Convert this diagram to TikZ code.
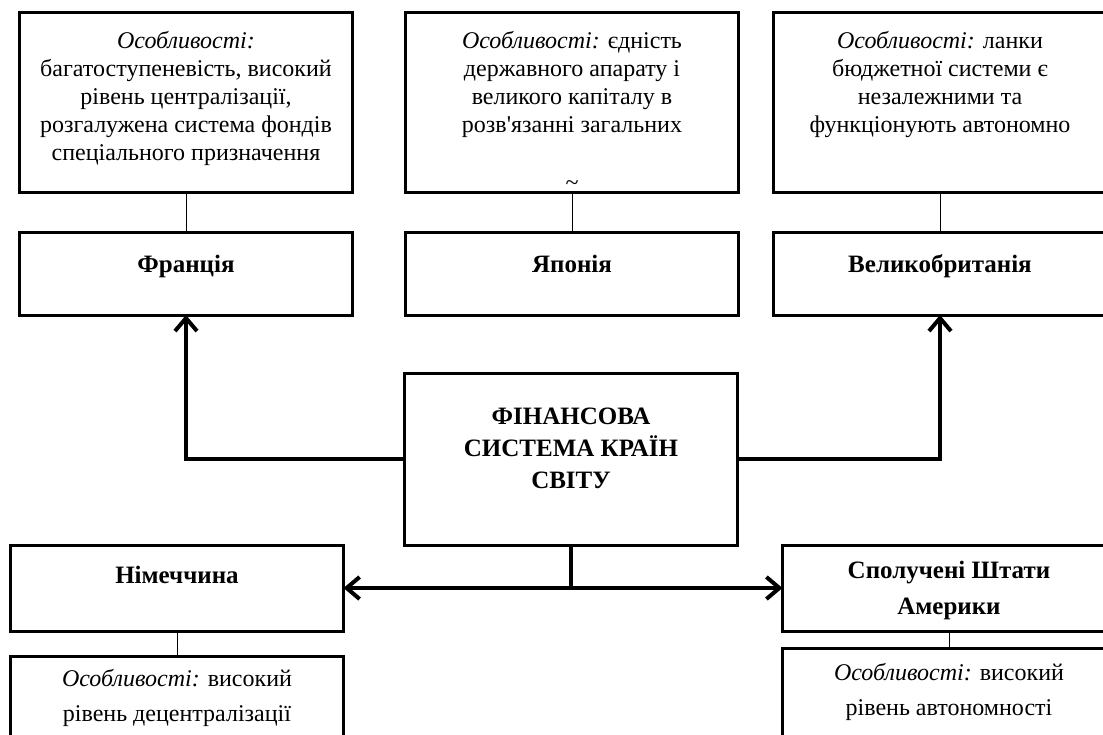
\documentclass[tikz,border=0pt]{standalone}
\usepackage{fontspec}
\setmainfont{Liberation Serif}
\usetikzlibrary{arrows.meta}
\newcommand{\boxtext}[3]{\parbox[c][#1][t]{325pt}{\centering\vspace*{#2}#3\par}}
\newcommand{\feat}{\textit{Особливості:}}
\begin{document}
\begin{tikzpicture}[x=1pt,y=-1pt,inner sep=0pt,outer sep=0pt,
>={Straight Barb[length=13pt,width=22pt]},
featblock/.style={draw,rectangle,line width=3pt,inner xsep=4pt,font=\fontsize{24}{28}\selectfont},
countryblock/.style={draw,rectangle,line width=3pt,inner xsep=4pt,font=\bfseries\fontsize{25}{36}\selectfont},
link/.style={line width=1pt},
flow/.style={line width=4pt}]
\useasboundingbox (0,0) rectangle (1103,734);
\clip (0,0) rectangle (1103,734);
% top row: features
\draw (186,102) node[featblock] (frfeat) {\boxtext{180pt}{19pt}{\feat\\ багатоступеневість, високий\\ рівень централізації,\\ розгалужена система фондів\\ спеціального призначення}};
\draw (572,102) node[featblock] (jpfeat) {\boxtext{180pt}{19pt}{\feat{} єдність\\ державного апарату і\\ великого капіталу в\\ розв\textquotesingle язанні загальних\\[30pt] \textasciitilde}};
\draw (940,102) node[featblock] (gbfeat) {\boxtext{180pt}{19pt}{\feat{} ланки\\ бюджетної системи є\\ незалежними та\\ функціонують автономно}};
% top row: countries
\draw (186,273.5) node[countryblock] (fr) {\boxtext{83pt}{23pt}{Франція}};
\draw (572,273.5) node[countryblock] (jp) {\boxtext{83pt}{23pt}{Японія}};
\draw (940,273.5) node[countryblock] (gb) {\boxtext{83pt}{23pt}{Великобританія}};
% centre
\draw (571,459) node[countryblock,font=\bfseries\fontsize{25}{32}\selectfont] (fin) {\boxtext{172pt}{35pt}{ФІНАНСОВА\\ СИСТЕМА КРАЇН\\ СВІТУ}};
% bottom row
\draw (177,588) node[countryblock] (de) {\boxtext{86pt}{21pt}{Німеччина}};
\draw (949,588) node[countryblock] (us) {\boxtext{86pt}{16pt}{Сполучені Штати\\ Америки}};
\draw (177,708) node[featblock,font=\fontsize{24}{35}\selectfont] (defeat) {\boxtext{104pt}{13pt}{\feat{} високий\\ рівень децентралізації}};
\draw (949,704) node[featblock,font=\fontsize{24}{35}\selectfont] (usfeat) {\boxtext{112pt}{15pt}{\feat{} високий\\ рівень автономності}};
% connectors
\draw[link] (frfeat) -- (fr);
\draw[link] (jpfeat) -- (jp);
\draw[link] (gbfeat) -- (gb);
\draw[link] (de) -- (defeat);
\draw[link] (us) -- (usfeat);
\draw[flow,->] (fin.west) -| (fr.south);
\draw[flow,->] (fin.east) -| (gb.south);
\draw[flow] (fin.south) -- (fin.south |- de.east);
\draw[flow,<->] (de.east) -- (us.west);
\end{tikzpicture}
\end{document}
